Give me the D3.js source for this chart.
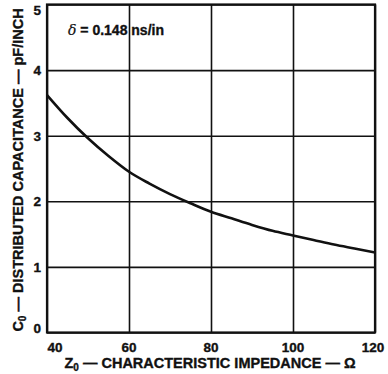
<!DOCTYPE html>
<html><head><meta charset="utf-8">
<script src="https://cdn.jsdelivr.net/npm/d3@7"></script>
<style>body{margin:0;background:#fff}svg{display:block}text{font-family:"Liberation Sans",Arial,sans-serif;font-weight:bold;fill:#111;stroke:#111;stroke-width:0.35}</style>
</head><body>
<script>
const impedance = [40,45,50,55,60,65,70,75,80,85,90,95,100,105,110,115,120];
const capacitance = [3.62,3.27,2.96,2.69,2.45,2.27,2.11,1.97,1.84,1.74,1.64,1.55,1.48,1.41,1.34,1.28,1.22];
const xTicks = [40,60,80,100,120];
const yTicks = [0,1,2,3,4,5];

const W=388,H=374;
const m={left:47,right:13,top:4.5,bottom:41.5};
const svg=d3.select("body").append("svg").attr("width",W).attr("height",H);
const x=d3.scaleLinear().domain([40,120]).range([m.left,W-m.right]);
const y=d3.scaleLinear().domain([0,5]).range([H-m.bottom,m.top]);

// grid
svg.append("g").attr("transform",`translate(0,${H-m.bottom})`)
  .call(d3.axisBottom(x).tickValues(xTicks).tickSize(-(H-m.bottom-m.top)).tickFormat(""))
  .call(g=>{g.select(".domain").remove();g.selectAll("line").attr("stroke","#111").attr("stroke-width",1.6);});
svg.append("g").attr("transform",`translate(${m.left},0)`)
  .call(d3.axisLeft(y).tickValues(yTicks).tickSize(-(W-m.left-m.right)).tickFormat(""))
  .call(g=>{g.select(".domain").remove();g.selectAll("line").attr("stroke","#111").attr("stroke-width",1.6);});
// border
svg.append("rect").attr("x",m.left).attr("y",m.top).attr("width",W-m.left-m.right).attr("height",H-m.top-m.bottom)
  .attr("fill","none").attr("stroke","#111").attr("stroke-width",2.2);

// tick labels
svg.append("g").selectAll("text").data(yTicks).join("text")
  .attr("x",41).attr("y",d=>d===5?y(d)+10.5:d===0?y(d):y(d)+5).attr("text-anchor","end").attr("font-size",13.5).text(d=>d);
svg.append("g").selectAll("text").data(xTicks).join("text")
  .attr("x",(d,i)=>i===0?x(d)+0.5:x(d)-(i===xTicks.length-1?2:0)).attr("y",H-m.bottom+19.5)
  .attr("text-anchor",(d,i)=>i===0?"start":"middle").attr("font-size",13.5).text(d=>d);

// curve
svg.append("path").datum(impedance.map((z,i)=>[z,capacitance[i]]))
  .attr("d",d3.line().x(d=>x(d[0])).y(d=>y(d[1])).curve(d3.curveMonotoneX))
  .attr("fill","none").attr("stroke","#111").attr("stroke-width",2.6);

// annotation
const ann=svg.append("text").attr("x",68).attr("y",35).attr("font-size",14);
ann.append("tspan").attr("font-style","italic").attr("font-weight","normal").attr("font-family","DejaVu Serif, serif").attr("stroke-width",0.2).text("δ");
ann.append("tspan").text(" = 0.148 ns/in");

// x label
const xl=svg.append("text").attr("x",210).attr("y",368).attr("text-anchor","middle").attr("font-size",14.5);
xl.append("tspan").text("Z");
xl.append("tspan").attr("font-size",10).attr("dy",3).text("0");
xl.append("tspan").attr("dy",-3).text(" — CHARACTERISTIC IMPEDANCE — Ω");

// y label
const yl=svg.append("text").attr("transform","translate(23,170) rotate(-90)").attr("text-anchor","middle").attr("font-size",14.5);
yl.append("tspan").text("C");
yl.append("tspan").attr("font-size",10).attr("dy",3).text("0");
yl.append("tspan").attr("dy",-3).text(" — DISTRIBUTED CAPACITANCE — pF/INCH");
</script>
</body></html>
